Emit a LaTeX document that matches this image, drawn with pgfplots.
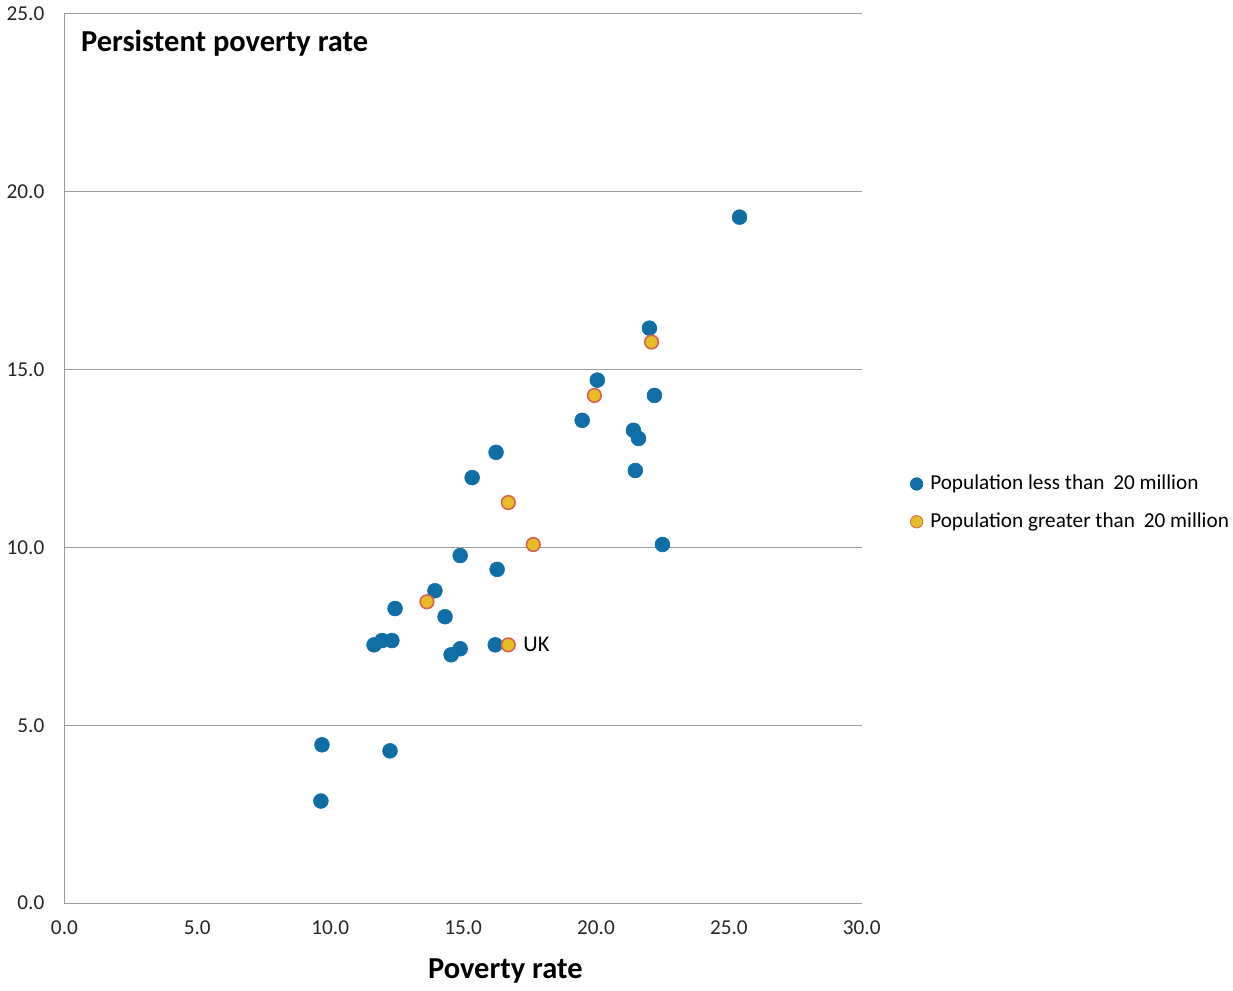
\documentclass[border=0pt]{standalone}
\usepackage{pgfplots}
\pgfplotsset{compat=1.18}
\usepackage{fontspec}
\setmainfont{Carlito}
\definecolor{cblue}{RGB}{16,110,166}
\definecolor{cgold}{RGB}{232,188,36}
\definecolor{cedge}{RGB}{212,100,78}
\definecolor{cgrid}{RGB}{155,155,155}
\begin{document}
\begin{tikzpicture}
\begin{axis}[
  scale only axis,
  width=398pt, height=444pt,
  xmin=0, xmax=30, ymin=0, ymax=25,
  xtick={0,5,...,30}, ytick={0,5,...,25},
  axis x line*=bottom, axis y line*=left,
  axis line style={cgrid, line width=0.6pt, -},
  major tick length=0pt,
  ymajorgrids, grid style={cgrid, line width=0.6pt},
  /pgf/number format/.cd, fixed, fixed zerofill, precision=1, assume math mode=true,
  /pgfplots/.cd,
  tick label style={font=\fontsize{10.6}{12}\selectfont, text=black!85},
  xticklabel style={yshift=-5pt},
  yticklabel style={xshift=-6.5pt},
  clip=false,
  legend style={draw=none, fill=none, at={(axis description cs:1.06,0.45)}, anchor=west,
    font=\fontsize{10.6}{12}\selectfont, row sep=6pt, inner sep=0pt},
  legend cell align=left,
  legend image code/.code={\draw[#1] (0,0) circle (3.1pt);},
]
\addplot[only marks, mark=*, mark size=3.7pt, draw=cblue, fill=cblue, mark options={line width=0.3pt}] coordinates {
(25.40,19.28) (22.01,16.16) (20.05,14.70) (22.20,14.27) (19.48,13.57)
(21.41,13.29) (21.60,13.06) (21.48,12.16) (16.24,12.67) (15.34,11.96)
(22.50,10.08) (14.89,9.77) (16.28,9.38) (13.94,8.78) (12.44,8.28)
(14.32,8.05) (11.65,7.26) (11.95,7.38) (12.32,7.38) (14.89,7.15)
(14.55,6.98) (16.21,7.26) (9.69,4.45) (12.25,4.28) (9.65,2.87)
};
\addlegendentry{\hspace{1.5pt}Population less than\hspace{2pt} 20 million}
\addplot[only marks, mark=*, mark size=3.4pt, draw=cedge, fill=cgold, mark options={line width=0.8pt}] coordinates {
(22.09,15.77) (19.94,14.27) (16.70,11.26) (17.64,10.08) (13.64,8.47) (16.70,7.26)
};
\addlegendentry{\hspace{1.5pt}Population greater than\hspace{2pt} 20 million}
\node[anchor=west, font=\fontsize{11.2}{13}\selectfont, xshift=4pt] at (axis cs:16.70,7.26) {UK};
\node[anchor=base west, font=\fontsize{15.2}{17}\bfseries\selectfont] at (axis description cs:0.012,0.958) {Persistent poverty rate};
\node[anchor=base, font=\fontsize{15.2}{17}\bfseries\selectfont] at (axis description cs:0.553,-0.085) {Poverty rate};
\end{axis}
\end{tikzpicture}
\end{document}
